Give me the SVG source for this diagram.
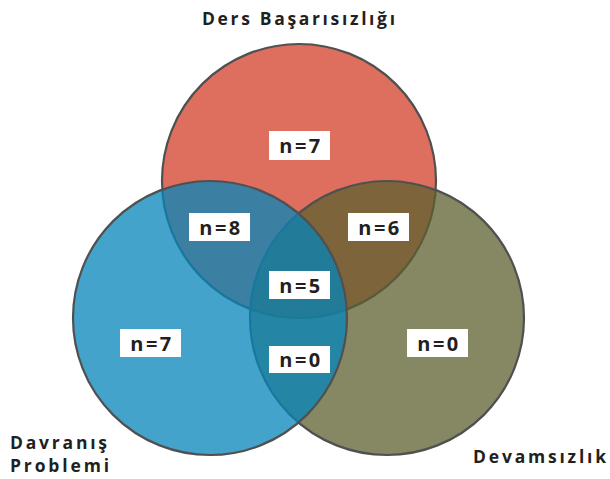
<svg xmlns="http://www.w3.org/2000/svg" width="610" height="479" viewBox="0 0 610 479">
<style>
.c{stroke:#505050;stroke-width:2.2}
.box{fill:#ffffff}
.n{font-family:"Open Sans","Liberation Sans",sans-serif;font-weight:700;font-size:20px;fill:#231f20;text-anchor:middle;letter-spacing:2.5px}
.t{font-family:"Open Sans","Liberation Sans",sans-serif;font-weight:700;font-size:17.5px;fill:#231f20}
</style>
<rect width="610" height="479" fill="#ffffff"/>
<g id="circles">
<g id="ders"><circle class="c" cx="299" cy="181" r="137" fill="#de6f5e"/></g>
<g id="devamsizlik"><circle class="c" cx="387" cy="318" r="137" fill="rgb(92,96,47)" fill-opacity="0.75"/></g>
<g id="davranis"><circle class="c" cx="210" cy="318" r="137" fill="rgb(4,132,185)" fill-opacity="0.75"/></g>
</g>
<g id="labels">
<g id="l-ders"><rect class="box" x="269" y="131" width="61" height="29"/><text class="n" x="301" y="153">n=7</text></g>
<g id="l-dd"><rect class="box" x="189" y="213" width="61" height="28"/><text class="n" x="221" y="235">n=8</text></g>
<g id="l-ddv"><rect class="box" x="348" y="213" width="61" height="28"/><text class="n" x="380" y="235">n=6</text></g>
<g id="l-all"><rect class="box" x="269" y="271" width="61" height="28"/><text class="n" x="301" y="293">n=5</text></g>
<g id="l-dav"><rect class="box" x="120" y="329" width="61" height="28"/><text class="n" x="152" y="351">n=7</text></g>
<g id="l-davdev"><rect class="box" x="269" y="346" width="61" height="27"/><text class="n" x="301" y="367">n=0</text></g>
<g id="l-dev"><rect class="box" x="407" y="329" width="61" height="28"/><text class="n" x="439" y="351">n=0</text></g>
</g>
<g id="titles">
<text class="t" x="202" y="25" textLength="193" lengthAdjust="spacing">Ders Başarısızlığı</text>
<text class="t" x="10" y="449" textLength="97" lengthAdjust="spacing">Davranış</text>
<text class="t" x="10" y="472" textLength="99" lengthAdjust="spacing">Problemi</text>
<text class="t" x="473" y="463" textLength="133" lengthAdjust="spacing">Devamsızlık</text>
</g>
</svg>
